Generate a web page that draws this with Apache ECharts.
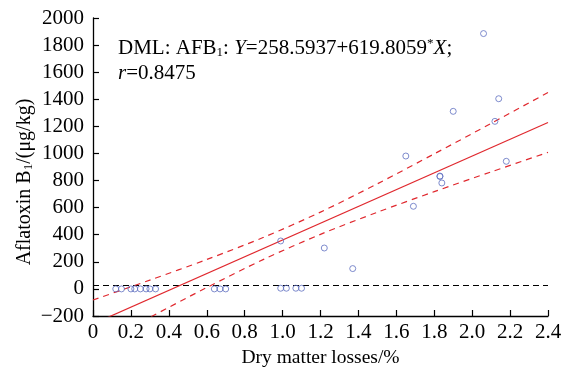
<!DOCTYPE html>
<html><head><meta charset="utf-8">
<script src="https://cdn.jsdelivr.net/npm/echarts@6/dist/echarts.min.js"></script>
<style>html,body{margin:0;padding:0;background:#fff}#c{width:569px;height:369px}</style>
</head><body><div id="c"></div>
<script>
// Observed points
var pointX = [0.12,0.15,0.20,0.22,0.25,0.28,0.30,0.33,0.64,0.67,0.70,0.99,1.02,1.07,1.10,0.99,1.22,1.37,1.65,1.69,1.83,1.83,1.84,1.90,2.06,2.12,2.14,2.18];
var pointY = [0,0,0,0,0,0,0,0,0,0,0,5,5,5,5,354,302,150,981,610,833,830,782,1311,1885,1237,1404,942];
// Fit line and 95% confidence band
var fitX = [0, 2.4];
var fitY = [-258.6, 1228.9];
var bandX = [0, 0.3, 0.6, 0.9, 1.2, 1.5, 1.8, 2.1, 2.4];
var bandUpper = [-82, 65, 217, 381, 567, 776, 997, 1222, 1450];
var bandLower = [-436, -210, 10, 218, 403, 566, 718, 864, 1008];
var refX = [0, 2.4];
var refY = [25, 25];

function zip(a,b){return a.map(function(v,i){return [v,b[i]];});}
var FONT = 'Liberation Serif';
var chart = echarts.init(document.getElementById('c'), null, {renderer:'canvas'});
chart.setOption({
  animation:false,
  textStyle:{fontFamily:FONT},
  grid:{left:93,right:21,top:18,bottom:53,containLabel:false,outerBoundsMode:'none'},
  xAxis:{type:'value',min:0,max:2.4,interval:0.2,
    name:'Dry matter losses/%',nameLocation:'middle',nameGap:27,
    nameTextStyle:{fontFamily:FONT,fontSize:19.5,color:'#000'},
    axisLine:{onZero:false,lineStyle:{color:'#000',width:1.3}},
    axisTick:{inside:true,length:6,lineStyle:{color:'#000',width:1.2}},
    axisLabel:{fontFamily:FONT,fontSize:21,color:'#000',margin:6,
      formatter:function(v){return v===0?'0':v.toFixed(1);}},
    splitLine:{show:false}},
  yAxis:{type:'value',min:-200,max:2000,interval:200,
    axisLine:{show:true,onZero:false,lineStyle:{color:'#000',width:1.3}},
    axisTick:{show:true,inside:true,length:6,lineStyle:{color:'#000',width:1.2}},
    axisLabel:{fontFamily:FONT,fontSize:21,color:'#000',margin:9,
      formatter:function(v){return v<0?'\u2212'+Math.abs(v):String(v);}},
    splitLine:{show:false}},
  graphic:[
    {type:'text',x:25,y:182,rotation:Math.PI/2,style:{
      text:'{a|Aflatoxin B}{s|1}{a|/(μg/kg)}',align:'center',verticalAlign:'middle',
      rich:{a:{fontFamily:FONT,fontSize:20,fill:'#000'},s:{fontFamily:FONT,fontSize:13,fill:'#000',padding:[8,0,0,0]}}}},
    {type:'text',left:118,top:37,style:{
      text:'{n|DML: AFB}{s|1}{n|: }{i|Y}{n|=258.5937+619.8059}{p|*}{i|X}{n|;}\n{i|r}{n|=0.8475}',
      rich:{n:{fontFamily:FONT,fontSize:21,fill:'#000',lineHeight:25},
            i:{fontFamily:FONT,fontSize:21,fontStyle:'italic',fill:'#000',lineHeight:25},
            s:{fontFamily:FONT,fontSize:13,fill:'#000',padding:[9,0,0,0],lineHeight:25},
            p:{fontFamily:FONT,fontSize:13,fill:'#000',padding:[0,0,9,0],lineHeight:25}}}}],
  series:[
    {type:'line',data:zip(refX,refY),symbol:'none',lineStyle:{color:'#000',width:1.2,type:[6,4]},z:2},
    {type:'line',data:zip(bandX,bandUpper),symbol:'none',smooth:0.3,lineStyle:{color:'#e0282e',width:1.2,type:[6,5]},z:3},
    {type:'line',data:zip(bandX,bandLower),symbol:'none',smooth:0.3,lineStyle:{color:'#e0282e',width:1.2,type:[6,5]},z:3},
    {type:'line',data:zip(fitX,fitY),symbol:'none',lineStyle:{color:'#e0282e',width:1.2},z:3},
    {type:'scatter',data:zip(pointX,pointY),symbol:'circle',symbolSize:6,
      itemStyle:{color:'rgba(0,0,0,0)',borderColor:'#5f6fc0',borderWidth:1},z:4}
  ]
});
</script></body></html>
